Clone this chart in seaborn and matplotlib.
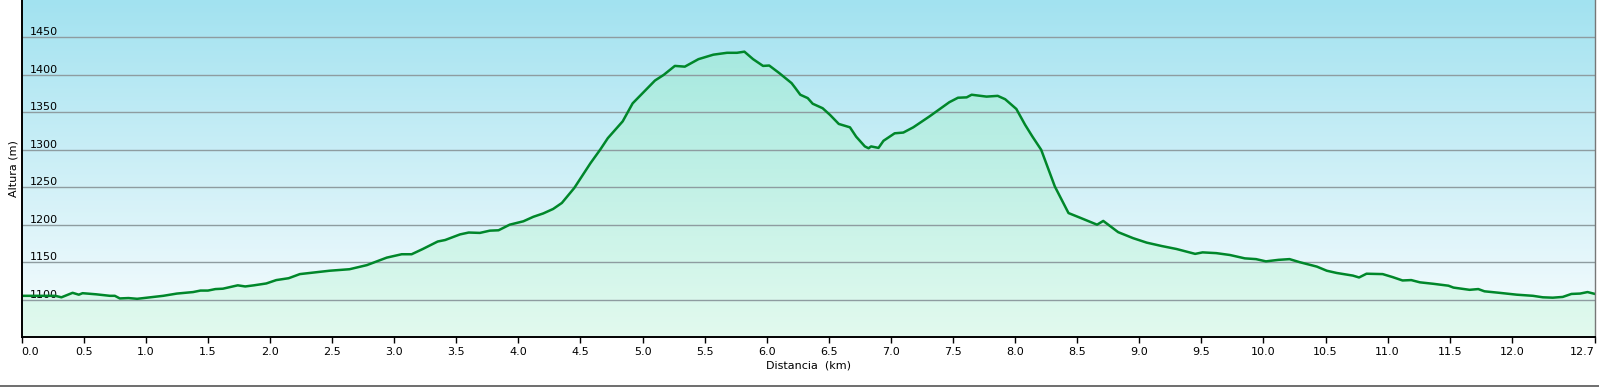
import numpy as np
import pandas as pd
import matplotlib
matplotlib.use("Agg")
import matplotlib.pyplot as plt
from matplotlib.colors import LinearSegmentedColormap
from matplotlib.lines import Line2D
import seaborn as sns

# elevation profile (km, m)
distancia = [0.00, 0.27, 0.32, 0.41, 0.46, 0.49, 0.60, 0.71, 0.75, 0.79, 0.86, 0.93,
             1.01, 1.14, 1.25, 1.38, 1.44, 1.50, 1.56, 1.62, 1.74, 1.80, 1.87, 1.97,
             2.05, 2.15, 2.24, 2.35, 2.48, 2.64, 2.78, 2.91, 2.94, 3.06, 3.14, 3.23,
             3.35, 3.41, 3.53, 3.60, 3.69, 3.77, 3.84, 3.93, 4.04, 4.12, 4.20, 4.28,
             4.35, 4.45, 4.58, 4.66, 4.72, 4.84, 4.92, 5.00, 5.10, 5.17, 5.26, 5.34,
             5.45, 5.57, 5.68, 5.76, 5.82, 5.89, 5.97, 6.02, 6.10, 6.20, 6.23, 6.27,
             6.33, 6.37, 6.45, 6.51, 6.58, 6.67, 6.72, 6.79, 6.82, 6.84, 6.90, 6.94,
             7.03, 7.10, 7.18, 7.31, 7.47, 7.54, 7.61, 7.65, 7.77, 7.86, 7.92, 8.01,
             8.08, 8.14, 8.21, 8.32, 8.43, 8.52, 8.66, 8.71, 8.83, 8.95, 9.06, 9.18,
             9.30, 9.45, 9.51, 9.62, 9.73, 9.85, 9.94, 10.02, 10.12, 10.21, 10.29, 10.43,
             10.51, 10.59, 10.72, 10.77, 10.83, 10.96, 11.04, 11.12, 11.19, 11.26, 11.37, 11.49,
             11.53, 11.66, 11.73, 11.78, 11.90, 12.04, 12.17, 12.25, 12.33, 12.41, 12.48, 12.55,
             12.61, 12.67]
altura = [1105, 1105, 1103, 1109, 1106.5, 1108.5, 1107, 1105, 1105, 1101.5, 1102, 1101,
          1102.5, 1105, 1108, 1110, 1112, 1112, 1114, 1114.5, 1119, 1117.5, 1119, 1121.5,
          1126, 1128.5, 1134, 1136, 1138.5, 1140.5, 1146, 1154, 1156, 1160.5, 1160.5, 1167.5,
          1177.5, 1179.5, 1187, 1189.5, 1189, 1192, 1192.5, 1200, 1204.5, 1210.5, 1215, 1221,
          1229, 1249, 1282, 1300.5, 1315.5, 1338, 1362, 1375.5, 1392.5, 1400, 1412, 1411,
          1421, 1427, 1429.5, 1429.5, 1431, 1421, 1412, 1412.5, 1402.5, 1389, 1382.5, 1373.5,
          1369, 1361.5, 1355.5, 1346.5, 1334.5, 1330, 1317.5, 1304.5, 1302, 1304.5, 1302.5, 1312,
          1322, 1323, 1330, 1344.5, 1363.5, 1369.5, 1370, 1373.5, 1371, 1372, 1367.5, 1354.5,
          1333.5, 1317.5, 1300, 1251, 1215.5, 1209.5, 1200, 1205, 1190, 1182, 1176, 1171.5,
          1167.5, 1161, 1163, 1162, 1159.5, 1155, 1154, 1151, 1153, 1154, 1150, 1144,
          1138.5, 1135.5, 1132, 1129.5, 1134.5, 1134, 1130, 1125.5, 1126, 1123, 1121, 1118.5,
          1116, 1113, 1114, 1111, 1109, 1106.5, 1105, 1103, 1102.5, 1103.5, 1107.5, 1108,
          1110, 1107.5]

x_ticks = [0.0, 0.5, 1.0, 1.5, 2.0, 2.5, 3.0, 3.5, 4.0, 4.5, 5.0, 5.5, 6.0, 6.5,
           7.0, 7.5, 8.0, 8.5, 9.0, 9.5, 10.0, 10.5, 11.0, 11.5, 12.0, 12.67]
x_labels = ["0.0", "0.5", "1.0", "1.5", "2.0", "2.5", "3.0", "3.5", "4.0", "4.5", "5.0",
            "5.5", "6.0", "6.5", "7.0", "7.5", "8.0", "8.5", "9.0", "9.5", "10.0", "10.5",
            "11.0", "11.5", "12.0", "12.7"]
y_ticks = [1100, 1150, 1200, 1250, 1300, 1350, 1400, 1450]

df = pd.DataFrame({"km": distancia, "alt": altura})

x_max = distancia[-1]
y_min, y_max = 1050, 1500

fig = plt.figure(figsize=(15.99, 3.87), dpi=100)
W, H = 1599, 387
ax = fig.add_axes([21.7 / W, (H - 337) / H, (1595 - 21.7) / W, 337 / H])

# sky gradient behind the chart
sky = LinearSegmentedColormap.from_list("sky", ["#F9FDFE", "#A2E2F0"])
grad = np.linspace(0, 1, 256).reshape(-1, 1)
ax.imshow(grad, cmap=sky, origin="lower", aspect="auto",
          extent=[0, x_max, y_min, y_max], zorder=0, interpolation="bicubic")

# gradient fill under the profile
poly = ax.fill_between(df["km"], df["alt"], y_min, facecolor="none", edgecolor="none")
mint = LinearSegmentedColormap.from_list("mint", ["#E2FAEE", "#9CE6DD"])
im = ax.imshow(grad, cmap=mint, origin="lower", aspect="auto",
               extent=[0, x_max, y_min, y_max], zorder=1, interpolation="bicubic")
im.set_clip_path(poly.get_paths()[0], transform=ax.transData)

# grid lines
for yv in y_ticks:
    ax.axhline(yv, color="#8E9CA0", lw=1.0, zorder=2)

sns.lineplot(data=df, x="km", y="alt", color="#00872A", linewidth=1.8, ax=ax, zorder=3)

ax.set_xlim(0, x_max)
ax.set_ylim(y_min, y_max)

ax.set_xticks(x_ticks)
ax.set_xticklabels(x_labels, fontsize=8)
ax.tick_params(axis="x", direction="out", length=4, width=1, pad=3, colors="black")
xl = ax.get_xticklabels()
xl[0].set_ha("left")
xl[-1].set_ha("right")

ax.set_yticks(y_ticks)
ax.set_yticklabels([str(v) for v in y_ticks], fontsize=8)
ax.tick_params(axis="y", length=0, pad=-6)
for lab in ax.get_yticklabels():
    lab.set_ha("left")
    lab.set_va("bottom")

ax.set_xlabel("Distancia  (km)", fontsize=8, labelpad=3)
ax.set_ylabel("Altura (m)", fontsize=8, labelpad=2)

ax.spines["top"].set_visible(False)
ax.spines["left"].set_color("black")
ax.spines["left"].set_linewidth(1.4)
ax.spines["bottom"].set_color("black")
ax.spines["bottom"].set_linewidth(1.4)
ax.spines["right"].set_color("#777777")
ax.spines["right"].set_linewidth(1.0)
for s in ax.spines.values():
    s.set_zorder(5)

# frame line along the bottom edge of the image
fig.add_artist(Line2D([0, 1], [0.7 / H, 0.7 / H], color="#555555", lw=1.2,
                      transform=fig.transFigure))

fig.savefig("out.png", dpi=100, facecolor="white")
